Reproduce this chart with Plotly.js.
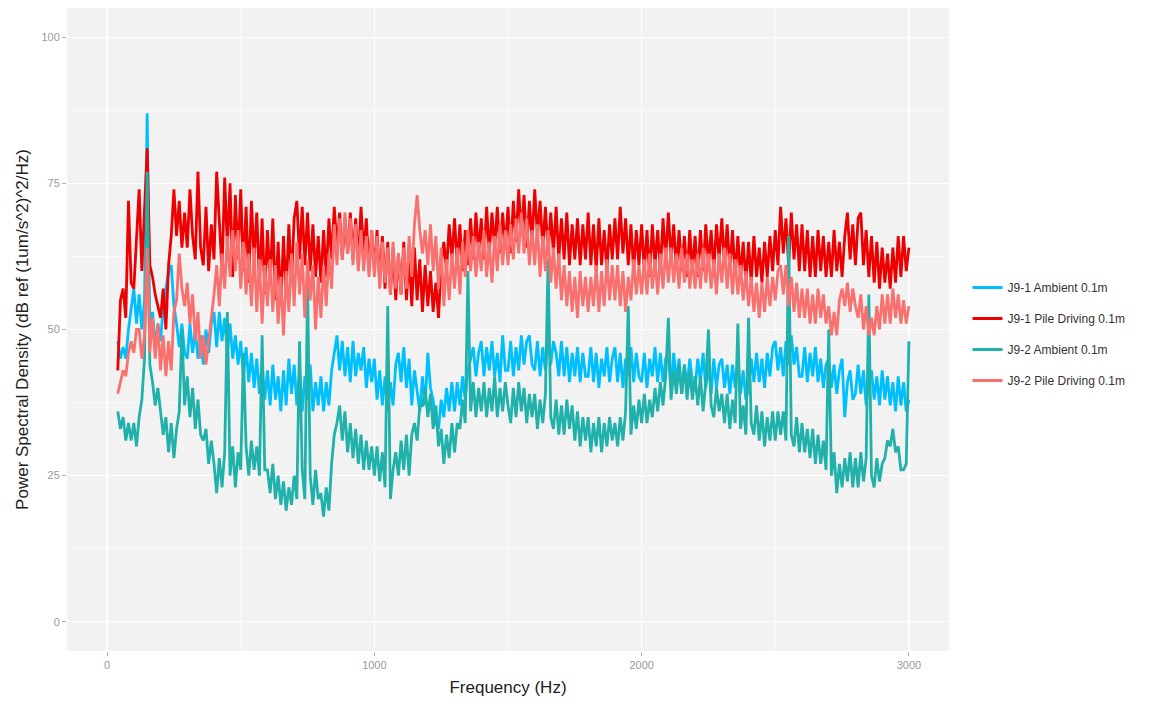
<!DOCTYPE html>
<html>
<head>
<meta charset="utf-8">
<script src="https://cdn.plot.ly/plotly-3.0.1.min.js"></script>
<style>
  html, body { margin: 0; padding: 0; background: #ffffff; }
  #chart { width: 1155px; height: 702px; }
</style>
</head>
<body>
<div id="chart"></div>
<script>
// Frequency bins (Hz)
const freqHz = [
  40, 50, 60, 70, 80, 90,
  100, 110, 120, 130, 140, 150, 160, 170, 180, 190,
  200, 210, 220, 230, 240, 250, 260, 270, 280, 290,
  300, 310, 320, 330, 340, 350, 360, 370, 380, 390,
  400, 410, 420, 430, 440, 450, 460, 470, 480, 490,
  500, 510, 520, 530, 540, 550, 560, 570, 580, 590,
  600, 610, 620, 630, 640, 650, 660, 670, 680, 690,
  700, 710, 720, 730, 740, 750, 760, 770, 780, 790,
  800, 810, 820, 830, 840, 850, 860, 870, 880, 890,
  900, 910, 920, 930, 940, 950, 960, 970, 980, 990,
  1000, 1010, 1020, 1030, 1040, 1050, 1060, 1070, 1080, 1090,
  1100, 1110, 1120, 1130, 1140, 1150, 1160, 1170, 1180, 1190,
  1200, 1210, 1220, 1230, 1240, 1250, 1260, 1270, 1280, 1290,
  1300, 1310, 1320, 1330, 1340, 1350, 1360, 1370, 1380, 1390,
  1400, 1410, 1420, 1430, 1440, 1450, 1460, 1470, 1480, 1490,
  1500, 1510, 1520, 1530, 1540, 1550, 1560, 1570, 1580, 1590,
  1600, 1610, 1620, 1630, 1640, 1650, 1660, 1670, 1680, 1690,
  1700, 1710, 1720, 1730, 1740, 1750, 1760, 1770, 1780, 1790,
  1800, 1810, 1820, 1830, 1840, 1850, 1860, 1870, 1880, 1890,
  1900, 1910, 1920, 1930, 1940, 1950, 1960, 1970, 1980, 1990,
  2000, 2010, 2020, 2030, 2040, 2050, 2060, 2070, 2080, 2090,
  2100, 2110, 2120, 2130, 2140, 2150, 2160, 2170, 2180, 2190,
  2200, 2210, 2220, 2230, 2240, 2250, 2260, 2270, 2280, 2290,
  2300, 2310, 2320, 2330, 2340, 2350, 2360, 2370, 2380, 2390,
  2400, 2410, 2420, 2430, 2440, 2450, 2460, 2470, 2480, 2490,
  2500, 2510, 2520, 2530, 2540, 2550, 2560, 2570, 2580, 2590,
  2600, 2610, 2620, 2630, 2640, 2650, 2660, 2670, 2680, 2690,
  2700, 2710, 2720, 2730, 2740, 2750, 2760, 2770, 2780, 2790,
  2800, 2810, 2820, 2830, 2840, 2850, 2860, 2870, 2880, 2890,
  2900, 2910, 2920, 2930, 2940, 2950, 2960, 2970, 2980, 2990,
  3000
];

// PSD levels, dB ref (1um/s^2)^2/Hz
const j91Ambient = [
  48, 45, 47, 45, 50, 54,
  57, 51, 56, 50, 55, 87, 49, 53, 47, 51,
  48, 54, 57, 60, 61, 54, 51, 47, 51, 46,
  45, 51, 46, 50, 45, 49, 44, 50, 46, 51,
  53, 47, 53, 48, 52, 46, 51, 45, 49, 44,
  48, 42, 47, 41, 46, 40, 45, 39, 44, 38,
  43, 37, 44, 38, 42, 36, 43, 37, 45, 39,
  44, 37, 43, 36, 42, 38, 44, 36, 41, 37,
  42, 36, 41, 37, 43, 46, 49, 43, 48, 42,
  47, 41, 48, 42, 46, 43, 47, 40, 45, 41,
  45, 38, 43, 37, 42, 36, 41, 37, 44, 46,
  41, 47, 40, 45, 37, 43, 39, 36, 42, 37,
  46, 40, 38, 34, 33, 38, 35, 40, 36, 41,
  36, 41, 37, 42, 38, 43, 45, 47, 42, 46,
  48, 42, 47, 43, 48, 42, 46, 41, 49, 43,
  43, 48, 42, 47, 43, 49, 44, 48, 49, 44,
  43, 48, 42, 47, 43, 49, 44, 48, 46, 42,
  48, 42, 47, 41, 46, 42, 47, 41, 46, 42,
  42, 47, 41, 46, 40, 45, 42, 47, 41, 45,
  47, 41, 46, 40, 45, 42, 47, 41, 46, 42,
  41, 46, 40, 45, 42, 47, 41, 46, 41, 45,
  45, 40, 46, 41, 45, 39, 44, 40, 45, 41,
  40, 45, 41, 46, 40, 44, 39, 45, 40, 44,
  45, 40, 44, 39, 44, 40, 45, 39, 43, 38,
  40, 45, 41, 46, 41, 45, 40, 46, 42, 47,
  48, 43, 47, 42, 48, 44, 49, 44, 47, 42,
  42, 47, 41, 46, 42, 47, 41, 45, 40, 44,
  45, 40, 44, 39, 43, 45, 35, 41, 43, 38,
  39, 44, 39, 43, 37, 42, 43, 38, 42, 37,
  43, 38, 42, 37, 41, 36, 42, 37, 41, 36,
  38
];

const j91Pile = [
  43, 55, 57, 52, 72, 58,
  57, 66, 74, 60, 71, 81, 61, 59, 56, 54,
  52, 57, 50, 61, 66, 74, 66, 72, 64, 70,
  64, 74, 66, 62, 77, 64, 61, 71, 60, 68,
  62, 77, 69, 60, 76, 64, 75, 59, 73, 62,
  74, 60, 71, 58, 72, 62, 70, 58, 69, 56,
  67, 58, 69, 55, 65, 54, 66, 56, 68, 58,
  69, 72, 62, 71, 61, 70, 60, 68, 59, 66,
  58, 67, 59, 69, 62, 71, 64, 70, 62, 69,
  63, 70, 62, 69, 61, 71, 63, 69, 60, 67,
  60, 67, 58, 66, 57, 65, 56, 64, 55, 63,
  56, 65, 55, 63, 54, 64, 55, 62, 53, 61,
  54, 60, 53, 58, 52, 61, 65, 60, 68, 62,
  69, 61, 68, 60, 67, 61, 69, 62, 70, 63,
  69, 62, 71, 63, 70, 64, 71, 63, 70, 64,
  71, 63, 72, 65, 74, 66, 73, 64, 72, 65,
  74, 66, 72, 64, 71, 63, 70, 63, 71, 62,
  69, 62, 70, 61, 68, 62, 69, 61, 68, 62,
  70, 61, 68, 60, 69, 61, 67, 60, 68, 62,
  69, 62, 71, 63, 69, 61, 68, 60, 67, 61,
  68, 60, 67, 59, 68, 61, 67, 60, 69, 62,
  70, 62, 68, 60, 67, 60, 66, 59, 67, 60,
  66, 59, 67, 60, 68, 61, 67, 60, 68, 62,
  69, 61, 68, 60, 67, 59, 66, 59, 65, 58,
  65, 58, 66, 59, 64, 58, 65, 59, 66, 60,
  67, 61, 71, 63, 69, 61, 70, 62, 68, 60,
  68, 60, 67, 59, 66, 59, 67, 60, 66, 59,
  65, 59, 67, 60, 65, 59, 66, 70, 62, 68,
  61, 69, 70, 61, 67, 59, 66, 58, 65, 57,
  64, 58, 63, 57, 64, 58, 66, 59, 66, 60,
  64
];

const j92Ambient = [
  36, 33, 35, 31, 34, 31,
  34, 30, 35, 38, 45, 77, 44, 41, 37, 40,
  36, 32, 35, 29, 34, 28, 33, 36, 50, 37,
  42, 35, 40, 33, 38, 32, 31, 33, 27, 31,
  27, 22, 28, 23, 29, 53, 25, 30, 23, 29,
  26, 46, 30, 25, 31, 26, 30, 25, 49, 26,
  26, 22, 27, 21, 25, 20, 24, 19, 23, 20,
  25, 21, 48, 26, 21, 58, 25, 20, 26, 21,
  22, 18, 23, 19, 27, 32, 34, 37, 31, 36,
  29, 34, 28, 33, 27, 32, 26, 31, 26, 30,
  25, 30, 24, 29, 23, 54, 21, 26, 29, 25,
  31, 26, 32, 25, 32, 34, 31, 37, 37, 40,
  35, 39, 33, 37, 30, 33, 27, 32, 28, 34,
  29, 34, 33, 38, 34, 60, 36, 41, 35, 40,
  36, 41, 35, 40, 36, 42, 35, 40, 36, 41,
  37, 34, 40, 35, 41, 36, 40, 34, 39, 35,
  39, 33, 38, 34, 39, 62, 35, 33, 38, 32,
  37, 32, 38, 33, 37, 31, 36, 30, 35, 31,
  35, 29, 34, 30, 35, 29, 34, 30, 35, 31,
  34, 30, 35, 31, 36, 54, 32, 37, 33, 38,
  34, 39, 34, 38, 35, 40, 36, 41, 37, 42,
  52, 38, 43, 39, 44, 39, 44, 38, 43, 38,
  42, 37, 42, 36, 41, 50, 37, 35, 40, 36,
  39, 34, 39, 33, 38, 34, 51, 33, 37, 32,
  52, 34, 32, 37, 31, 36, 30, 35, 31, 36,
  31, 36, 32, 36, 31, 66, 32, 30, 35, 29,
  34, 29, 33, 28, 33, 27, 32, 27, 31, 26,
  50, 25, 29, 22, 27, 23, 28, 24, 29, 23,
  28, 23, 29, 24, 28, 56, 25, 23, 28, 24,
  27, 28, 31, 30, 33, 29, 30, 26, 26, 27,
  48
];

const j92Pile = [
  39, 41, 43, 42, 46, 48,
  46, 50, 50, 45, 49, 64, 46, 52, 45, 51,
  43, 49, 42, 48, 43, 53, 55, 63, 57, 54,
  58, 51, 56, 48, 53, 45, 49, 44, 48, 51,
  56, 61, 54, 63, 57, 66, 59, 67, 60, 67,
  57, 65, 56, 63, 54, 64, 53, 62, 51, 61,
  54, 62, 53, 61, 51, 59, 49, 60, 53, 63,
  54, 65, 56, 63, 52, 62, 55, 61, 50, 59,
  52, 61, 54, 63, 57, 68, 61, 69, 62, 70,
  63, 69, 61, 68, 60, 67, 60, 66, 59, 67,
  59, 66, 57, 65, 58, 64, 56, 65, 57, 63,
  56, 64, 57, 66, 59, 68, 73, 67, 63, 67,
  61, 68, 60, 66, 57, 64, 54, 62, 55, 63,
  57, 64, 56, 65, 59, 67, 60, 66, 59, 65,
  60, 67, 59, 65, 58, 66, 60, 68, 61, 67,
  61, 68, 62, 69, 63, 70, 63, 69, 61, 67,
  61, 68, 59, 66, 60, 67, 58, 64, 57, 63,
  55, 61, 54, 60, 53, 59, 52, 60, 54, 59,
  53, 59, 54, 61, 53, 60, 54, 62, 55, 61,
  55, 61, 54, 60, 53, 59, 55, 62, 56, 61,
  56, 62, 56, 63, 57, 62, 56, 63, 57, 64,
  58, 64, 58, 63, 57, 64, 58, 63, 57, 62,
  57, 63, 57, 64, 58, 63, 57, 62, 56, 63,
  58, 64, 57, 63, 56, 62, 56, 61, 55, 60,
  54, 59, 53, 58, 52, 58, 53, 59, 54, 59,
  55, 60, 61, 56, 61, 54, 59, 53, 58, 52,
  57, 52, 57, 51, 56, 51, 57, 52, 56, 51,
  54, 49, 53, 49, 55, 57, 54, 58, 53, 57,
  54, 52, 56, 50, 54, 49, 52, 49, 54, 50,
  56, 51, 56, 51, 57, 52, 56, 51, 55, 51,
  54
];

const seriesNames = [
  'J9-1 Ambient 0.1m',
  'J9-1 Pile Driving 0.1m',
  'J9-2 Ambient 0.1m',
  'J9-2 Pile Driving 0.1m'
];
const seriesColors = ['#00BFFF', '#EE0000', '#20B2AA', '#F8716E'];
const seriesValues = [j91Ambient, j91Pile, j92Ambient, j92Pile];

const traces = seriesValues.map((vals, i) => ({
  type: 'scatter',
  mode: 'lines',
  x: freqHz,
  y: vals,
  name: seriesNames[i],
  legendgroup: 'g' + i,
  line: { color: seriesColors[i], width: 2.8 },
  hoverinfo: 'x+y+name'
}));

const layout = {
  width: 1155,
  height: 702,
  margin: { l: 67, r: 206, t: 8, b: 51 },
  paper_bgcolor: '#ffffff',
  plot_bgcolor: '#F2F2F2',
  font: { family: 'Liberation Sans, Arial, sans-serif', color: '#333333' },
  showlegend: true,
  legend: {
    x: 1.021, xanchor: 'left',
    y: 0.493, yanchor: 'middle',
    traceorder: 'grouped',
    tracegroupgap: 12,
    font: { size: 12, color: '#333333' },
    bgcolor: 'rgba(0,0,0,0)'
  },
  xaxis: {
    range: [-150, 3150],
    tickmode: 'linear', tick0: 0, dtick: 1000,
    showgrid: true, gridcolor: '#ffffff', gridwidth: 1.2,
    minor: { dtick: 500, showgrid: true, gridcolor: '#ffffff', gridwidth: 0.6 },
    zeroline: false, showline: false,
    ticks: 'outside', ticklen: 4, tickcolor: '#B0B0B0', tickwidth: 1,
    tickfont: { size: 11, color: '#9A9A9A' },
    title: { text: 'Frequency (Hz)', font: { size: 17, color: '#222222' }, standoff: 10 }
  },
  yaxis: {
    range: [-5, 105],
    tickmode: 'linear', tick0: 0, dtick: 25,
    showgrid: true, gridcolor: '#ffffff', gridwidth: 1.2,
    minor: { dtick: 12.5, showgrid: true, gridcolor: '#ffffff', gridwidth: 0.6 },
    zeroline: false, showline: false,
    ticks: 'outside', ticklen: 4, tickcolor: '#B0B0B0', tickwidth: 1,
    tickfont: { size: 11, color: '#9A9A9A' },
    title: { text: 'Power Spectral Density (dB ref (1um/s^2)^2/Hz)', font: { size: 17, color: '#222222' }, standoff: 8 }
  }
};

Plotly.newPlot('chart', traces, layout, { displayModeBar: false, staticPlot: true });
</script>
</body>
</html>
